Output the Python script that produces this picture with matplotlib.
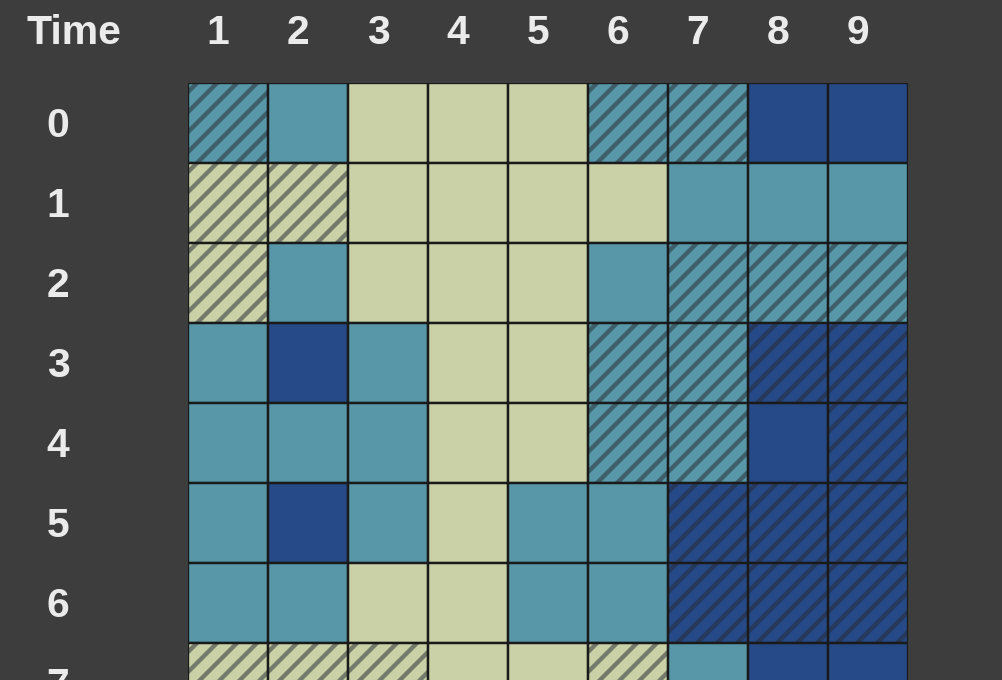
import matplotlib
matplotlib.use('Agg')
import matplotlib.pyplot as plt
from matplotlib.patches import Rectangle

# cell levels: 0 = light, 1 = teal, 2 = dark blue
times = ['0', '1', '2', '3', '4', '5', '6', '7']
columns = ['1', '2', '3', '4', '5', '6', '7', '8', '9']
levels = [
    [1, 1, 0, 0, 0, 1, 1, 2, 2],
    [0, 0, 0, 0, 0, 0, 1, 1, 1],
    [0, 1, 0, 0, 0, 1, 1, 1, 1],
    [1, 2, 1, 0, 0, 1, 1, 2, 2],
    [1, 1, 1, 0, 0, 1, 1, 2, 2],
    [1, 2, 1, 0, 1, 1, 2, 2, 2],
    [1, 1, 0, 0, 1, 1, 2, 2, 2],
    [0, 0, 0, 0, 0, 0, 1, 2, 2],
]
hatched = [
    [1, 0, 0, 0, 0, 1, 1, 0, 0],
    [1, 1, 0, 0, 0, 0, 0, 0, 0],
    [1, 0, 0, 0, 0, 0, 1, 1, 1],
    [0, 0, 0, 0, 0, 1, 1, 1, 1],
    [0, 0, 0, 0, 0, 1, 1, 0, 1],
    [0, 0, 0, 0, 0, 0, 1, 1, 1],
    [0, 0, 0, 0, 0, 0, 1, 1, 1],
    [1, 1, 1, 0, 0, 1, 0, 0, 0],
]
palette = ['#cad1a6', '#5797a7', '#264a87']

bg = '#3d3d3d'
plt.rcParams['font.family'] = ['Liberation Sans', 'DejaVu Sans']
plt.rcParams['hatch.linewidth'] = 2.6

W, H, DPI = 1002, 680, 120
fig = plt.figure(figsize=(W / DPI, H / DPI), dpi=DPI, facecolor=bg)
cell = 80
left, top = 188, 83
ax = fig.add_axes([left / W, (H - top - cell * len(times)) / H,
                   cell * len(columns) / W, cell * len(times) / H])
ax.set_xlim(0, len(columns))
ax.set_ylim(len(times), 0)
ax.axis('off')

for i in range(len(times)):
    for j in range(len(columns)):
        ax.add_patch(Rectangle((j, i), 1, 1, facecolor=palette[levels[i][j]],
                               edgecolor='#1a1a1a', linewidth=1.3, zorder=1))
        if hatched[i][j]:
            ax.add_patch(Rectangle((j, i), 1, 1, facecolor='none',
                                   edgecolor=(0.15, 0.17, 0.2, 0.52), linewidth=0,
                                   hatch='//', zorder=2))
# redraw borders on top of hatches
for i in range(len(times)):
    for j in range(len(columns)):
        ax.add_patch(Rectangle((j, i), 1, 1, facecolor='none',
                               edgecolor='#1a1a1a', linewidth=1.3, zorder=3))

txt = dict(color='#ebebeb', fontsize=24.5, fontweight='bold',
           ha='center', va='center', clip_on=False)
head_y = -50 / cell
for j, c in enumerate(columns):
    ax.text(j + 0.5 - 10 / cell, head_y, c, **txt)
ax.text((74 - left) / cell, head_y, 'Time', **txt)
for i, t in enumerate(times):
    ax.text((58 - left) / cell, i + 0.5 + 3 / cell, t, **txt)

fig.savefig('out.png', dpi=DPI, facecolor=bg)
